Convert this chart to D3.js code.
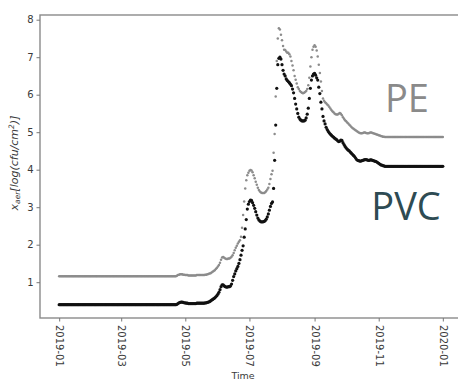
<!DOCTYPE html>
<html>
<head>
<meta charset="UTF-8">
<title>x_aer PE / PVC</title>
<style>
  body { margin: 0; background: #fff; }
  .tick text { font-family: "DejaVu Sans", sans-serif; font-size: 10px; fill: #3a3a3a; }
  .tick line { stroke: #777; }
  .lbl { font-family: "DejaVu Sans", sans-serif; fill: #3a3a3a; }
  .big { font-family: "Open Sans", sans-serif; }
</style>
</head>
<body>
<svg width="458" height="381"></svg>
<script src="https://d3js.org/d3.v7.min.js"></script>
<script>

// daily values, 2019-01-01 .. 2020-01-01
var startDay = "2019-01-01";

var pe = [
  // Jan
  1.16,1.16,1.16,1.16,1.16,1.16,1.16,1.16,1.16,1.16,1.16,1.16,1.16,1.16,1.16,1.16,
  1.16,1.16,1.16,1.16,1.16,1.16,1.16,1.16,1.16,1.16,1.16,1.16,1.16,1.16,1.16,
  // Feb
  1.16,1.16,1.16,1.16,1.16,1.16,1.16,1.16,1.16,1.16,1.16,1.16,1.16,1.16,
  1.16,1.16,1.16,1.16,1.16,1.16,1.16,1.16,1.16,1.16,1.16,1.16,1.16,1.16,
  // Mar
  1.16,1.16,1.16,1.16,1.16,1.16,1.16,1.16,1.16,1.16,1.16,1.16,1.16,1.16,1.16,1.16,
  1.16,1.16,1.16,1.16,1.16,1.16,1.16,1.16,1.16,1.16,1.16,1.16,1.16,1.16,1.16,
  // Apr
  1.16,1.16,1.16,1.16,1.16,1.16,1.16,1.16,1.16,1.16,1.16,
  1.16,1.16,1.16,1.16,1.16,1.16,1.16,1.16,1.16,1.16,1.16,
  1.17,1.19,1.2,1.21,1.21,1.21,1.2,1.2,
  // May
  1.19,
  1.19,1.19,1.18,1.18,1.18,1.18,1.18,1.18,1.18,1.18,1.19,1.19,1.19,1.19,1.19,1.19,1.19,
  1.19,1.2,1.2,1.21,1.22,1.23,1.24,1.26,1.28,1.3,1.32,1.35,1.38,
  // Jun
  1.42,1.46,1.52,1.6,1.66,1.67,1.65,1.63,1.62,1.62,
  1.63,1.63,1.65,1.68,1.72,1.78,1.85,1.92,1.97,2.03,
  2.08,2.12,2.21,2.45,2.79,3.15,3.5,3.72,3.85,3.92,
  // Jul
  3.97,3.99,3.98,3.93,3.85,3.77,3.68,3.6,3.52,3.46,
  3.42,3.39,3.38,3.38,3.38,3.4,3.43,3.47,3.52,3.62,
  3.75,3.88,3.97,4.45,4.95,5.95,6.9,7.5,7.77,7.74,
  7.6,
  // Aug
  7.45,7.3,7.2,7.19,7.15,7.12,7.12,7.08,7.02,6.9,
  6.78,6.65,6.5,6.4,6.3,6.2,6.15,6.1,6.07,6.05,
  6.04,6.05,6.07,6.1,6.15,6.25,6.45,6.75,7.0,7.2,
  7.28,
  // Sep
  7.32,7.28,7.18,7.02,6.8,6.58,6.35,6.1,5.9,5.84,
  5.8,5.77,5.74,5.71,5.67,5.63,5.59,5.56,5.53,5.5,
  5.48,5.47,5.47,5.49,5.51,5.49,5.45,5.4,5.36,5.32,
  // Oct
  5.29,5.26,5.23,5.2,5.17,5.14,5.11,5.09,5.07,5.05,
  5.03,5.01,4.99,4.98,4.97,4.97,4.98,4.99,4.99,4.98,
  4.97,4.97,4.98,4.99,4.99,4.98,4.97,4.96,4.95,4.94,
  4.93,
  // Nov
  4.92,4.91,4.9,4.89,4.88,4.88,
  4.87,4.87,4.87,4.87,4.87,4.87,4.87,4.87,4.87,4.87,4.87,4.87,
  4.87,4.87,4.87,4.87,4.87,4.87,4.87,4.87,4.87,4.87,4.87,4.87,
  // Dec
  4.87,4.87,4.87,4.87,4.87,4.87,4.87,4.87,4.87,4.87,4.87,4.87,4.87,4.87,4.87,4.87,
  4.87,4.87,4.87,4.87,4.87,4.87,4.87,4.87,4.87,4.87,4.87,4.87,4.87,4.87,4.87,
  // 2020-01-01
  4.87
];

var pvc = [
  // Jan
  0.4,0.4,0.4,0.4,0.4,0.4,0.4,0.4,0.4,0.4,0.4,0.4,0.4,0.4,0.4,0.4,
  0.4,0.4,0.4,0.4,0.4,0.4,0.4,0.4,0.4,0.4,0.4,0.4,0.4,0.4,0.4,
  // Feb
  0.4,0.4,0.4,0.4,0.4,0.4,0.4,0.4,0.4,0.4,0.4,0.4,0.4,0.4,
  0.4,0.4,0.4,0.4,0.4,0.4,0.4,0.4,0.4,0.4,0.4,0.4,0.4,0.4,
  // Mar
  0.4,0.4,0.4,0.4,0.4,0.4,0.4,0.4,0.4,0.4,0.4,0.4,0.4,0.4,0.4,0.4,
  0.4,0.4,0.4,0.4,0.4,0.4,0.4,0.4,0.4,0.4,0.4,0.4,0.4,0.4,0.4,
  // Apr
  0.4,0.4,0.4,0.4,0.4,0.4,0.4,0.4,0.4,0.4,0.4,
  0.4,0.4,0.4,0.4,0.4,0.4,0.4,0.4,0.4,0.4,0.4,
  0.41,0.43,0.45,0.46,0.47,0.47,0.46,0.45,
  // May
  0.45,
  0.44,0.44,0.43,0.43,0.43,0.43,0.43,0.43,0.43,0.43,0.44,0.44,0.44,0.44,0.44,0.44,0.44,
  0.44,0.45,0.45,0.46,0.47,0.48,0.5,0.52,0.54,0.56,0.58,0.61,0.64,
  // Jun
  0.68,0.73,0.8,0.88,0.93,0.93,0.9,0.88,0.87,0.87,
  0.88,0.88,0.9,0.95,1.05,1.15,1.22,1.3,1.36,1.42,
  1.5,1.6,1.72,1.85,1.97,2.2,2.42,2.67,2.95,3.08,
  // Jul
  3.15,3.19,3.18,3.12,3.05,2.97,2.88,2.79,2.71,2.66,
  2.63,2.61,2.61,2.61,2.62,2.64,2.68,2.74,2.82,2.92,
  3.02,3.1,3.14,3.5,4.25,5.19,6.17,6.8,6.97,7.0,
  6.95,
  // Aug
  6.8,6.65,6.55,6.5,6.42,6.38,6.35,6.32,6.28,6.24,
  6.15,6.05,5.9,5.75,5.62,5.5,5.4,5.35,5.32,5.3,
  5.3,5.3,5.32,5.38,5.48,5.64,5.9,6.17,6.39,6.5,
  6.55,
  // Sep
  6.57,6.52,6.45,6.39,6.2,6.03,5.8,5.62,5.42,5.3,
  5.22,5.13,5.07,5.02,4.98,4.95,4.92,4.89,4.87,4.84,
  4.82,4.8,4.77,4.75,4.76,4.79,4.78,4.72,4.67,4.62,
  // Oct
  4.58,4.55,4.52,4.5,4.47,4.44,4.41,4.38,4.35,4.31,
  4.27,4.25,4.24,4.23,4.23,4.24,4.25,4.26,4.27,4.27,
  4.26,4.25,4.25,4.26,4.26,4.25,4.24,4.23,4.22,4.21,
  4.19,
  // Nov
  4.17,4.15,4.13,4.12,4.11,4.1,
  4.09,4.09,4.09,4.09,4.09,4.09,4.09,4.09,4.09,4.09,4.09,4.09,
  4.09,4.09,4.09,4.09,4.09,4.09,4.09,4.09,4.09,4.09,4.09,4.09,
  // Dec
  4.09,4.09,4.09,4.09,4.09,4.09,4.09,4.09,4.09,4.09,4.09,4.09,4.09,4.09,4.09,4.09,
  4.09,4.09,4.09,4.09,4.09,4.09,4.09,4.09,4.09,4.09,4.09,4.09,4.09,4.09,4.09,
  // 2020-01-01
  4.09
];

var xTicks = ["2019-01", "2019-03", "2019-05", "2019-07", "2019-09", "2019-11", "2020-01"];
var yTicks = [1, 2, 3, 4, 5, 6, 7, 8];

(function() {
    var svg = d3.select("svg"),
        pl = 40, pr = 462, pt = 15, pb = 318;

    var parseDay = d3.utcParse("%Y-%m-%d"),
        parseMonth = d3.utcParse("%Y-%m"),
        t0 = parseDay(startDay),
        DAY = 864e5;

    var dates = pe.map(function(v, i) { return new Date(t0.getTime() + i * DAY); });

    // matplotlib-like 5% margins
    var first = dates[0], last = dates[dates.length - 1], span = last - first;
    var x = d3.scaleUtc()
        .domain([new Date(+first - span * 0.05), new Date(+last + span * 0.05)])
        .range([pl, pr]);

    var y = d3.scaleLinear()
        .domain([0.045, 8.125])
        .range([pb, pt]);

    // frame (right edge falls just outside the picture)
    svg.append("rect")
        .attr("x", pl).attr("y", pt)
        .attr("width", pr - pl).attr("height", pb - pt)
        .attr("fill", "none")
        .attr("stroke", "#8a8a8a")
        .attr("stroke-width", 1.4);

    var gx = svg.append("g")
        .attr("transform", "translate(0," + pb + ")")
        .call(d3.axisBottom(x)
            .tickValues(xTicks.map(parseMonth))
            .tickFormat(d3.utcFormat("%Y-%m"))
            .tickSize(3.5));
    gx.select(".domain").remove();
    gx.selectAll(".tick text")
        .attr("transform", "rotate(90)")
        .attr("x", 7).attr("y", 0).attr("dy", "0.35em")
        .attr("text-anchor", "start");

    var gy = svg.append("g")
        .attr("transform", "translate(" + pl + ",0)")
        .call(d3.axisLeft(y).tickValues(yTicks).tickFormat(d3.format("d")).tickSize(3.5).tickPadding(3));
    gy.select(".domain").remove();

    // points
    svg.append("g").selectAll("circle")
        .data(pe)
        .enter().append("circle")
        .attr("cx", function(d, i) { return x(dates[i]); })
        .attr("cy", function(d) { return y(d); })
        .attr("r", 1.25)
        .attr("fill", "#8c8c8c");

    svg.append("g").selectAll("circle")
        .data(pvc)
        .enter().append("circle")
        .attr("cx", function(d, i) { return x(dates[i]); })
        .attr("cy", function(d) { return y(d); })
        .attr("r", 1.6)
        .attr("fill", "#111");

    // axis titles
    svg.append("text")
        .attr("class", "lbl")
        .attr("x", 243).attr("y", 379)
        .attr("text-anchor", "middle")
        .attr("font-size", 9.5)
        .text("Time");

    var yl = svg.append("text")
        .attr("class", "lbl")
        .attr("transform", "translate(17.5,163) rotate(-90)")
        .attr("text-anchor", "middle")
        .attr("font-size", 11)
        .attr("font-style", "italic");
    yl.append("tspan").text("x");
    yl.append("tspan").attr("font-size", 7.5).attr("dy", 2.2).text("aer");
    yl.append("tspan").attr("dy", -2.2).text("[log(cfu/cm");
    yl.append("tspan").attr("font-size", 7.5).attr("dy", -4).text("2");
    yl.append("tspan").attr("dy", 4).text(")]");

    // series names
    svg.append("text")
        .attr("class", "big")
        .attr("x", x(parseDay("2019-11-07"))).attr("y", y(5.53))
        .attr("font-size", 38)
        .attr("fill", "#8a8a8a")
        .text("PE");

    svg.append("text")
        .attr("class", "big")
        .attr("x", x(parseDay("2019-10-25"))).attr("y", y(2.65))
        .attr("font-size", 38)
        .attr("fill", "#2e4b53")
        .text("PVC");
})();

</script>
</body>
</html>
